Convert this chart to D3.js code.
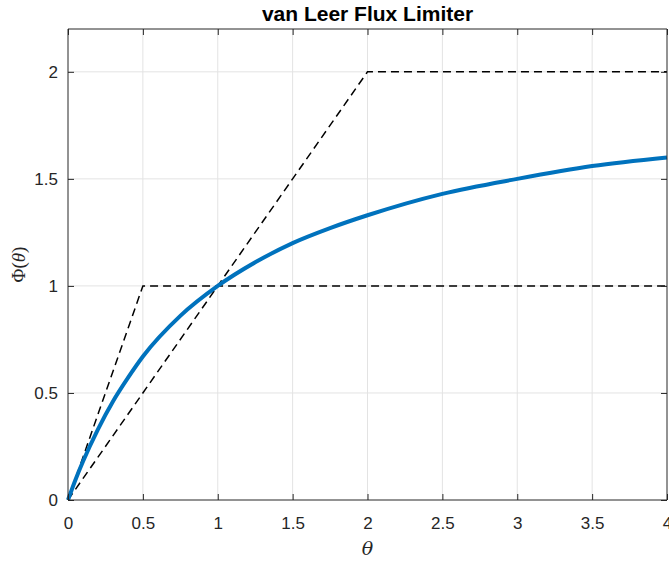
<!DOCTYPE html>
<html>
<head>
<meta charset="utf-8">
<script src="https://cdn.jsdelivr.net/npm/d3@7"></script>
<style>
  body { margin: 0; background: #fff; }
  svg { display: block; }
</style>
</head>
<body>
<svg id="chart" width="669" height="562"></svg>
<script>
// van Leer limiter curve
const thetaVals = [0, 0.05, 0.1, 0.2, 0.3, 0.4, 0.5, 0.75, 1, 1.25, 1.5, 1.75, 2, 2.5, 3, 3.5, 4];
const phiVals   = [0, 0.095, 0.18, 0.33, 0.46, 0.57, 0.67, 0.86, 1.0, 1.11, 1.2, 1.27, 1.33, 1.43, 1.5, 1.56, 1.6];

// TVD region bounds (dashed)
const lowerX = [0, 0.5, 4];
const lowerY = [0, 1, 1];
const upperX = [0, 2, 4];
const upperY = [0, 2, 2];

const xTicks = [0, 0.5, 1, 1.5, 2, 2.5, 3, 3.5, 4];
const yTicks = [0, 0.5, 1, 1.5, 2];

const margin = {left: 68, right: 2, top: 29, bottom: 62};
const width = 669, height = 562;
const axColor = "#262626";

const svg = d3.select("#chart");

const x = d3.scaleLinear().domain([0, 4]).range([margin.left, width - margin.right]);
const y = d3.scaleLinear().domain([0, 2.2]).range([height - margin.bottom, margin.top]);

// grid
const grid = svg.append("g");
grid.selectAll(".gx")
    .data(xTicks.slice(1, -1))
    .enter().append("line")
    .attr("x1", d => x(d)).attr("x2", d => x(d))
    .attr("y1", y(0)).attr("y2", y(2.2))
    .attr("stroke", "#e3e3e3").attr("stroke-width", 1);
grid.selectAll(".gy")
    .data(yTicks.slice(1))
    .enter().append("line")
    .attr("x1", x(0)).attr("x2", x(4))
    .attr("y1", d => y(d)).attr("y2", d => y(d))
    .attr("stroke", "#e3e3e3").attr("stroke-width", 1);

// dashed bounds
const line = d3.line().x(d => x(d[0])).y(d => y(d[1]));
[[lowerX, lowerY], [upperX, upperY]].forEach(([xs, ys]) => {
    svg.append("path")
        .attr("d", line(xs.map((v, i) => [v, ys[i]])))
        .attr("fill", "none")
        .attr("stroke", "#000")
        .attr("stroke-width", 1.5)
        .attr("stroke-dasharray", "8,5");
});

// limiter curve
svg.append("path")
    .attr("d", d3.line().curve(d3.curveMonotoneX)
        .x(d => x(d[0])).y(d => y(d[1]))(thetaVals.map((v, i) => [v, phiVals[i]])))
    .attr("fill", "none")
    .attr("stroke", "#0072BD")
    .attr("stroke-width", 4);

// axes
const tickLen = 6;
const xAxis = d3.axisBottom(x).tickValues(xTicks).tickSize(-tickLen).tickPadding(tickLen + 11)
    .tickFormat(d3.format("~g"));
const yAxis = d3.axisLeft(y).tickValues(yTicks).tickSize(-tickLen).tickPadding(tickLen + 4)
    .tickFormat(d3.format("~g"));
const xTop = d3.axisTop(x).tickValues(xTicks).tickSize(-tickLen).tickFormat("");
const yRight = d3.axisRight(y).tickValues(yTicks).tickSize(-tickLen).tickFormat("");

function style(g) {
    g.selectAll(".domain").attr("stroke", axColor);
    g.selectAll(".tick line").attr("stroke", axColor);
    g.selectAll("text").attr("fill", axColor)
        .style("font-family", "Liberation Sans, Arial, sans-serif")
        .style("font-size", "17px");
}

svg.append("g").attr("transform", `translate(0,${y(0)})`).call(xAxis).call(style)
    .selectAll(".domain").attr("d", `M${x(0)},0H${x(4)}`);
svg.append("g").attr("transform", `translate(${x(0)},0)`).call(yAxis).call(style)
    .selectAll(".domain").attr("d", `M0,${y(0)}V${y(2.2)}`);
svg.append("g").attr("transform", `translate(0,${y(2.2)})`).call(xTop).call(style)
    .selectAll(".domain").attr("d", `M${x(0)},0H${x(4)}`);
svg.append("g").attr("transform", `translate(${x(4)},0)`).call(yRight).call(style)
    .selectAll(".domain").attr("d", `M0,${y(0)}V${y(2.2)}`);

// title
svg.append("text")
    .attr("x", (x(0) + x(4)) / 2).attr("y", 21)
    .attr("text-anchor", "middle")
    .style("font-family", "Liberation Sans, Arial, sans-serif")
    .style("font-weight", "bold").style("font-size", "21px")
    .attr("fill", "#000")
    .text("van Leer Flux Limiter");

// axis labels
svg.append("text")
    .attr("x", (x(0) + x(4)) / 2).attr("y", 555)
    .attr("text-anchor", "middle")
    .style("font-family", "DejaVu Serif, Liberation Serif, serif")
    .style("font-style", "italic").style("font-size", "19px")
    .attr("fill", axColor)
    .text("θ");

svg.append("text")
    .attr("transform", `translate(25,${(y(0) + y(2.2)) / 2}) rotate(-90)`)
    .attr("text-anchor", "middle")
    .style("font-family", "Liberation Serif, serif")
    .style("font-size", "19px")
    .attr("fill", axColor)
    .html('Φ(<tspan font-style="italic">θ</tspan>)');
</script>
</body>
</html>
